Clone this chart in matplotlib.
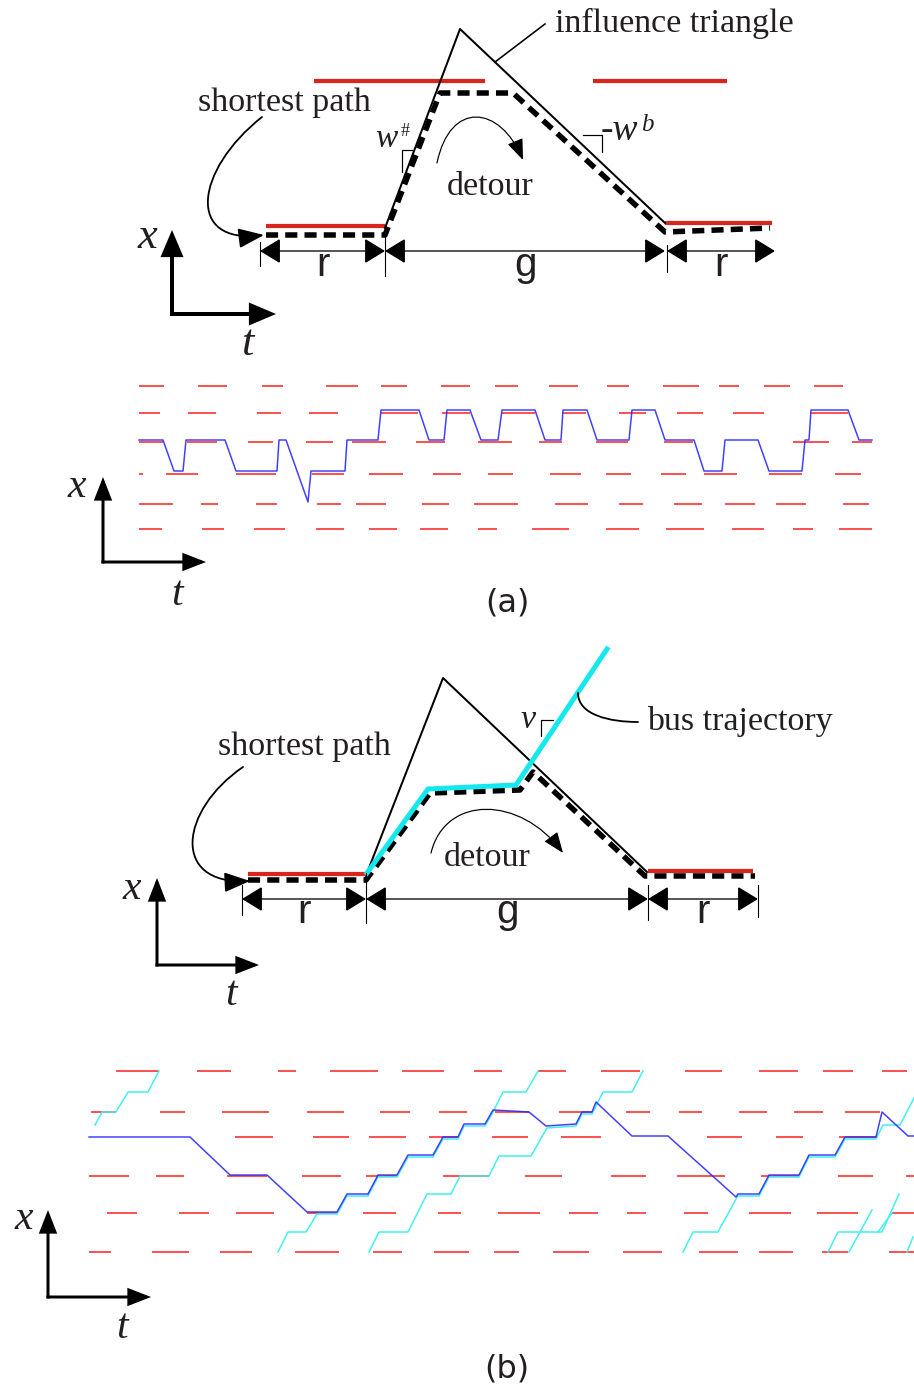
import matplotlib
matplotlib.use("Agg")
import matplotlib.pyplot as plt
from matplotlib.patches import FancyArrowPatch
from matplotlib.path import Path

W, H = 914, 1391
PT = 0.72  # points per pixel at dpi 100

SERIF = ["Liberation Serif", "DejaVu Serif"]
SANS = ["Liberation Sans", "DejaVu Sans"]
INK = "#231f20"
RED_S = "#d8261e"
RED_R = "#ff1c1c"
BLUE = "#2a2aff"
CYAN_S = "#14e8ef"
CYAN_R = "#3ef0f0"

# ---------------- panel (a), schematic ----------------
a_red_t = [(314, 485), (593, 727), (266, 385), (665, 772)]
a_red_x = [81, 81, 226, 223]
a_triangle_t = [385, 460, 665]
a_triangle_x = [228, 29, 223]
a_path_t = [266, 385, 440, 513, 665, 770]
a_path_x = [235, 235, 93, 93, 232, 228]
a_dim_y = 251
a_dim_spans = [(260, 385), (385, 665), (667, 775)]
a_dim_labels = ["r", "g", "r"]
a_dim_ticks = [(260, 242, 266), (385, 228, 276), (667, 245, 272)]

# ---------------- panel (a), trajectory over signal phases ----------------
a_lanes = [386, 413, 442, 474, 504, 529]
a_reds = [
    [(139, 164), (198, 227), (262, 283), (326, 358), (381, 407), (441, 470), (495, 518),
     (549, 578), (607, 629), (663, 699), (719, 739), (764, 790), (814, 843)],
    [(139, 160), (188, 216), (257, 281), (309, 338), (381, 418), (442, 470), (502, 535),
     (563, 586), (619, 646), (677, 703), (733, 764), (811, 848)],
    [(139, 163), (187, 217), (248, 273), (306, 333), (352, 386), (416, 445), (478, 512),
     (539, 562), (596, 628), (664, 693), (793, 829), (852, 872)],
    [(139, 143), (166, 198), (236, 276), (312, 344), (369, 403), (433, 461), (488, 513),
     (550, 581), (606, 631), (661, 686), (704, 737), (769, 802), (835, 861)],
    [(139, 173), (201, 218), (256, 277), (317, 341), (356, 386), (422, 449), (474, 518),
     (555, 588), (619, 643), (674, 702), (725, 755), (776, 806), (843, 869)],
    [(139, 162), (202, 224), (254, 285), (316, 344), (369, 397), (420, 448), (478, 497),
     (532, 569), (606, 639), (666, 704), (732, 764), (793, 813), (839, 872)],
]
a_traj_t = [139, 163, 174, 183, 186, 225, 236, 277, 279, 286, 308, 311, 345, 347, 378, 381,
            419, 429, 444, 447, 470, 481, 498, 502, 535, 545, 561, 563, 587, 597, 629, 632,
            655, 665, 694, 704, 722, 725, 758, 769, 802, 805, 809, 811, 848, 859, 872]
a_traj_x = [440, 440, 471, 471, 440, 440, 471, 471, 440, 440, 502, 471, 471, 440, 440, 410,
            410, 440, 440, 410, 410, 440, 440, 410, 410, 440, 440, 410, 410, 440, 440, 410,
            410, 440, 440, 471, 471, 440, 440, 471, 471, 440, 440, 410, 410, 440, 440]

# ---------------- panel (b), schematic ----------------
b_red_t = [(248, 366), (648, 753)]
b_red_x = [874, 871]
b_triangle_t = [367, 443, 647]
b_triangle_x = [873, 678, 872]
b_path_t = [248, 366, 430, 520, 533, 645, 755]
b_path_x = [880, 880, 793, 790, 772, 876, 876]
b_bus_t = [367, 428, 516, 607]
b_bus_x = [873, 789, 785, 649]
b_dim_y = 899
b_dim_spans = [(242, 366), (366, 648), (648, 758)]
b_dim_labels = ["r", "g", "r"]
b_dim_ticks = [(242, 885, 915), (366, 873, 923), (648, 885, 920), (758, 885, 917)]

# ---------------- panel (b), trajectories over signal phases ----------------
b_lanes = [1071, 1112, 1137, 1176, 1213, 1252]
b_reds = [
    [(116, 159), (197, 231), (278, 296), (330, 378), (402, 444), (474, 502), (538, 566),
     (601, 640), (685, 722), (759, 798), (823, 853), (882, 907)],
    [(91, 116), (160, 185), (222, 269), (307, 344), (380, 410), (439, 467), (495, 529),
     (559, 592), (626, 650), (679, 702), (739, 767), (794, 823), (845, 880)],
    [(235, 273), (313, 349), (369, 406), (429, 458), (492, 528), (561, 601), (707, 742),
     (776, 803), (839, 877)],
    [(89, 129), (156, 184), (227, 267), (302, 341), (366, 397), (443, 489), (525, 562),
     (611, 646), (677, 725), (761, 799), (838, 873), (906, 914)],
    [(107, 137), (179, 209), (236, 274), (307, 337), (363, 396), (438, 461), (498, 540),
     (569, 598), (627, 646), (684, 708), (749, 791), (817, 858), (892, 914)],
    [(89, 111), (152, 189), (220, 252), (295, 339), (373, 402), (434, 469), (494, 519),
     (553, 589), (623, 662), (699, 738), (759, 793), (822, 848), (889, 914)],
]
b_car_t = [89, 190, 230, 267, 307, 337, 347, 368, 378, 397, 408, 433, 443, 458, 464, 485,
           493, 529, 546, 576, 582, 592, 596, 632, 668, 736, 738, 759, 769, 799, 809, 835,
           845, 876, 882, 908, 914]
b_car_x = [1137, 1137, 1175, 1175, 1212, 1212, 1194, 1194, 1175, 1175, 1155, 1155, 1137, 1137,
           1124, 1124, 1110, 1112, 1126, 1124, 1112, 1112, 1102, 1136, 1136, 1197, 1194, 1194,
           1175, 1175, 1155, 1155, 1137, 1137, 1112, 1136, 1136]
b_bus_runs_t = [
    [95, 102, 116, 128, 148, 159],
    [278, 288, 306, 317, 337, 347, 368, 378, 397, 408, 433, 443, 458, 464, 485, 493, 503, 526, 538],
    [369, 379, 408, 427, 451, 460, 489, 499, 531, 547, 576, 582, 592, 603, 632, 643],
    [683, 693, 718, 736, 738, 759, 769, 799, 809, 835, 845, 876, 883, 900, 914],
    [828, 838, 882, 899],
    [849, 860, 872],
    [878, 892],
    [907, 913],
]
b_bus_runs_x = [
    [1125, 1112, 1112, 1092, 1092, 1071],
    [1252, 1232, 1232, 1214, 1214, 1196, 1196, 1177, 1177, 1157, 1157, 1139, 1139, 1126, 1126,
     1112, 1092, 1092, 1071],
    [1252, 1232, 1232, 1194, 1194, 1176, 1176, 1156, 1156, 1128, 1126, 1114, 1114, 1092, 1092, 1071],
    [1252, 1232, 1232, 1199, 1196, 1196, 1177, 1177, 1157, 1157, 1139, 1139, 1125, 1125, 1098],
    [1252, 1232, 1232, 1194],
    [1252, 1232, 1210],
    [1232, 1213],
    [1252, 1237],
]

fig = plt.figure(figsize=(W / 100, H / 100), dpi=100)
ax = fig.add_axes([0, 0, 1, 1])
ax.set_xlim(0, W)
ax.set_ylim(H, 0)
ax.axis("off")


def arrow(p0, p1, lw_px, hl, hw, style="-|>", color="black", z=4):
    ax.add_patch(FancyArrowPatch(
        p0, p1, arrowstyle=f"{style},head_length={hl},head_width={hw / 2}",
        mutation_scale=PT, lw=lw_px * PT, color=color, shrinkA=0, shrinkB=0,
        joinstyle="miter", capstyle="butt", zorder=z))


def curved_arrow(pts, lw_px, hl, hw, head=True):
    path = Path(pts, [Path.MOVETO, Path.CURVE4, Path.CURVE4, Path.CURVE4])
    style = f"-|>,head_length={hl},head_width={hw / 2}" if head else "-"
    ax.add_patch(FancyArrowPatch(path=path, arrowstyle=style, mutation_scale=PT,
                                 lw=lw_px * PT, color="black", zorder=4))


def text(x, y, s, size, family=SERIF, style="normal", ha="center", va="baseline"):
    ax.text(x, y, s, fontsize=size, family=family, style=style, ha=ha, va=va,
            color=INK, zorder=6)


def axes_glyph(x0, y0, xtip, ytip, lw_px, hl, hw, xlab, tlab, size):
    arrow((x0, y0 + lw_px / 2), (x0, ytip), lw_px, hl, hw)
    arrow((x0 - lw_px / 2, y0), (xtip, y0), lw_px, hl, hw)
    text(*xlab, "x", size, style="italic")
    text(*tlab, "t", size, style="italic")


def dimension(y, spans, labels, ticks, label_y):
    for (t0, t1), lab in zip(spans, labels):
        arrow((t0, y), (t1, y), 1.3, 18, 22, style="<|-|>")
        text((t0 + t1) / 2, label_y, lab, 29, family=SANS)
    for t, y0, y1 in ticks:
        ax.plot([t, t], [y0, y1], color="black", lw=1.1 * PT, zorder=4)


def raster(lanes, reds):
    for y, row in zip(lanes, reds):
        for t0, t1 in row:
            ax.plot([t0, t1], [y, y], color=RED_R, lw=1.5 * PT,
                    solid_capstyle="butt", zorder=2)


# ===== panel (a) schematic =====
for (t0, t1), y in zip(a_red_t, a_red_x):
    ax.plot([t0, t1], [y, y], color=RED_S, lw=4.2 * PT, solid_capstyle="butt", zorder=2)
ax.plot(a_triangle_t, a_triangle_x, color="black", lw=2 * PT, zorder=3)
ax.plot(a_path_t, a_path_x, color="black", lw=5.5 * PT, dashes=(2.2, 1.3),
        dash_capstyle="butt", solid_joinstyle="miter", zorder=3)
ax.plot([495, 545], [62, 24], color="black", lw=1.6 * PT, zorder=3)
text(674, 32, "influence triangle", 24.5)
text(284, 111, "shortest path", 24.5)
text(490, 195, "detour", 24.5)
curved_arrow([(262, 117), (195, 170), (185, 245), (264, 235)], 1.8, 22, 17)
curved_arrow([(437, 163), (450, 100), (500, 105), (523, 160)], 1.2, 18, 14)
# slope markers
text(386, 147, "w", 24, style="italic")
text(405, 136, "#", 13)
ax.plot([402, 402, 412], [172, 150, 150], color="black", lw=1.2 * PT, zorder=4)
text(601, 140, "-w", 27, style="italic", ha="left")
text(641, 131, "b", 18, style="italic", ha="left")
ax.plot([583, 602, 602], [135, 135, 152], color="black", lw=1.2 * PT, zorder=4)
dimension(a_dim_y, a_dim_spans, a_dim_labels, a_dim_ticks, 276)
axes_glyph(172, 314, 276, 230, 4, 20, 17, (147, 248), (247, 355), 32)

# ===== panel (a) raster =====
raster(a_lanes, a_reds)
ax.plot(a_traj_t, a_traj_x, color=BLUE, lw=1.5 * PT, alpha=0.9, zorder=3)
axes_glyph(103, 562, 206, 477, 3, 18, 14, (77, 497), (177, 605), 30)
text(507, 603, "(a)", 23, family=["DejaVu Sans"], va="center")

# ===== panel (b) schematic =====
for (t0, t1), y in zip(b_red_t, b_red_x):
    ax.plot([t0, t1], [y, y], color=RED_S, lw=4.2 * PT, solid_capstyle="butt", zorder=2)
ax.plot(b_triangle_t, b_triangle_x, color="black", lw=2 * PT, zorder=3)
ax.plot(b_path_t, b_path_x, color="black", lw=5.5 * PT, dashes=(2.2, 1.3),
        dash_capstyle="butt", solid_joinstyle="miter", zorder=3)
ax.plot(b_bus_t, b_bus_x, color=CYAN_S, lw=5 * PT, solid_joinstyle="miter", zorder=4)
text(304, 755, "shortest path", 24.5)
text(487, 866, "detour", 24.5)
text(647, 730, "bus trajectory", 24.5, ha="left")
curved_arrow([(243, 767), (180, 810), (170, 885), (250, 881)], 1.8, 22, 17)
curved_arrow([(431, 853), (445, 795), (520, 795), (563, 853)], 1.2, 18, 14)
curved_arrow([(578, 693), (578, 715), (610, 722), (638, 722)], 1.8, 0, 0, head=False)
text(528, 728, "v", 24.5, style="italic")
ax.plot([541, 541, 553], [736, 720, 720], color="black", lw=1.2 * PT, zorder=4)
dimension(b_dim_y, b_dim_spans, b_dim_labels, b_dim_ticks, 923)
axes_glyph(157, 965, 259, 878, 3, 18, 14, (132, 899), (231, 1005), 30)

# ===== panel (b) raster =====
raster(b_lanes, b_reds)
for ts, xs in zip(b_bus_runs_t, b_bus_runs_x):
    ax.plot(ts, xs, color=CYAN_R, lw=1.5 * PT, zorder=2.5)
ax.plot(b_car_t, b_car_x, color=BLUE, lw=1.5 * PT, alpha=0.9, zorder=3)
axes_glyph(48, 1297, 151, 1210, 3, 18, 14, (24, 1229), (122, 1338), 30)
text(507, 1369, "(b)", 23, family=["DejaVu Sans"], va="center")

fig.savefig("out.png", dpi=100)
